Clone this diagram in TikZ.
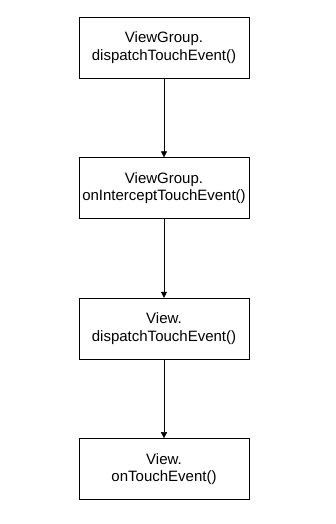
\documentclass[tikz,border=0pt]{standalone}
\usepackage{fontspec}
\setmainfont{Liberation Sans}
\usetikzlibrary{arrows.meta, positioning}
\tikzstyle{process} = [rectangle, minimum width=170pt, minimum height=61pt, inner xsep=1pt, text centered, align=center, draw=black, fill=white, font=\fontsize{15}{17.5}\selectfont]
\tikzstyle{arrow} = [->, >={Triangle[length=6pt, width=6pt]}]

\begin{document}
\begin{tikzpicture}[x=1pt, y=-1pt, node distance=79pt]
    \useasboundingbox (0,0) rectangle (335,524);

    \node (vgDispatch) [process, anchor=north] at (164,17) {ViewGroup.\\dispatchTouchEvent()};
    \node (vgIntercept) [process, below=of vgDispatch] {ViewGroup.\\onInterceptTouchEvent()};
    \node (vDispatch) [process, below=of vgIntercept] {View.\\dispatchTouchEvent()};
    \node (vTouch) [process, below=of vDispatch] {View.\\onTouchEvent()};

    \draw [arrow] (vgDispatch) -- (vgIntercept);
    \draw [arrow] (vgIntercept) -- (vDispatch);
    \draw [arrow] (vDispatch) -- (vTouch);
\end{tikzpicture}
\end{document}
